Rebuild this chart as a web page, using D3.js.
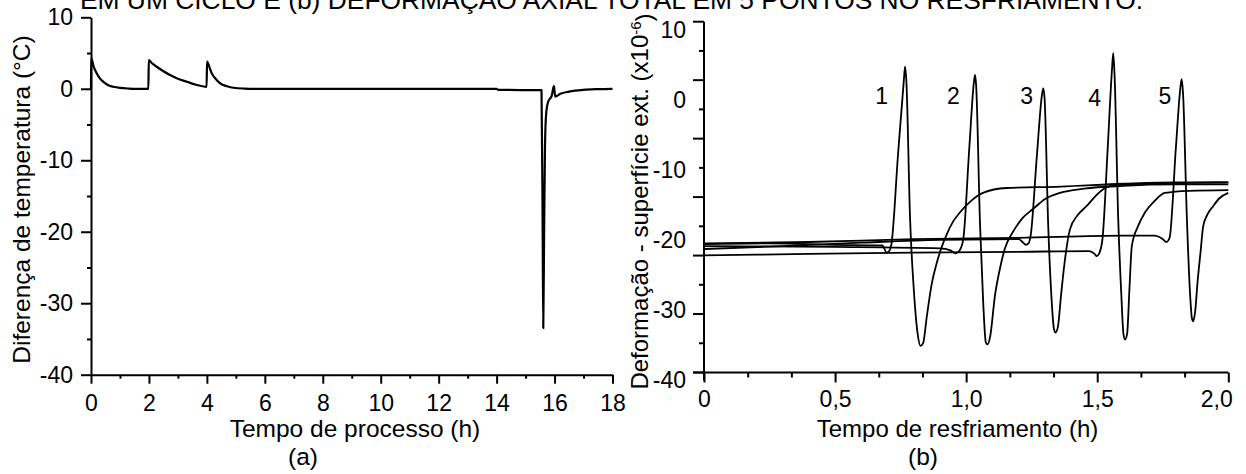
<!DOCTYPE html>
<html>
<head>
<meta charset="utf-8">
<script src="https://cdn.jsdelivr.net/npm/d3@7"></script>
<style>
  body { margin: 0; background: #fff; }
  svg text { font-family: "Liberation Sans", Arial, sans-serif; fill: #000; }
  .axis path, .axis line { stroke: #000; stroke-width: 2; }
</style>
</head>
<body>
<svg id="chart" width="1246" height="474"></svg>
<script>
// ---- Panel (a): temperature difference during the process ----
const processHours = [0, 0.005, 0.1, 0.2, 0.3, 0.42, 0.6, 0.77, 1.0, 1.3, 1.5, 1.98, 1.995, 2.1, 2.27, 2.5, 2.73, 3.0, 3.31, 3.6, 3.99, 4.005, 4.1, 4.17, 4.3, 4.46, 4.7, 4.92, 5.3, 5.6, 14.0, 14.05, 15.55, 15.59, 15.61, 15.64, 15.67, 15.71, 15.78, 15.9, 15.98, 16.02, 16.2, 16.5, 17.0, 17.5, 18.0];
const tempDiff     = [0, 4.3, 3.0, 2.15, 1.5, 1.0, 0.5, 0.28, 0.12, 0.03, 0, 0, 4.0, 3.6, 3.08, 2.45, 1.92, 1.4, 0.98, 0.6, 0.28, 3.8, 2.9, 2.15, 1.4, 0.75, 0.35, 0.14, 0.03, 0, 0, -0.15, -0.2, -20, -33.5, -20, -8, -3.5, -1.8, -1.0, 0.4, -1.1, -0.7, -0.4, -0.15, -0.05, 0];
const hourTicks  = [0, 2, 4, 6, 8, 10, 12, 14, 16, 18];
const hourMinor  = [1, 3, 5, 7, 9, 11, 13, 15, 17];
const tempTicks  = [-40, -30, -20, -10, 0, 10];
const tempMinor  = [-35, -25, -15, -5, 5];

// ---- Panel (b): total axial strain at five points during cooling ----
const curve1 = [[0,-21.7],[0.25,-21.6],[0.5,-21.8],[0.68,-21.9],[0.697,-22.9],[0.708,-22.6],[0.715,-21.7],[0.74,-9],[0.762,1.5],[0.767,3.6],[0.772,1.5],[0.786,-18],[0.8,-28],[0.815,-34.5],[0.826,-36.2],[0.836,-35.8],[0.85,-32],[0.868,-27.5],[0.887,-24.5],[0.905,-22.3],[0.926,-20.3],[0.95,-18.5],[0.976,-17.2],[1.02,-15.5],[1.064,-14.4],[1.154,-13.7],[1.36,-13.5],[1.6,-13.1],[1.8,-12.9],[2.0,-12.9]];
const curve2 = [[0,-22.0],[0.5,-22.1],[0.9,-22.3],[0.94,-22.6],[0.96,-23.0],[0.975,-22.6],[0.989,-21],[1.012,-8],[1.03,1.5],[1.034,2.4],[1.038,1],[1.053,-19],[1.065,-30],[1.075,-35.7],[1.082,-36],[1.091,-35],[1.11,-29],[1.13,-25],[1.148,-22.3],[1.178,-20],[1.215,-18],[1.255,-16.7],[1.3,-15.3],[1.358,-14.4],[1.45,-13.8],[1.6,-13.4],[1.8,-13.2],[2.0,-13.2]];
const curve3 = [[0,-22.4],[0.3,-22.0],[0.6,-21.5],[0.9,-21.1],[1.2,-21.0],[1.215,-21.4],[1.228,-21.8],[1.238,-21.6],[1.246,-20.5],[1.27,-9],[1.289,-0.5],[1.294,0.5],[1.299,-0.8],[1.313,-19],[1.325,-29],[1.335,-33.8],[1.341,-34.3],[1.35,-33.5],[1.362,-29],[1.375,-24.5],[1.396,-19.6],[1.425,-17.6],[1.459,-16.3],[1.5,-14.6],[1.535,-13.6],[1.6,-13.2],[1.8,-13.0],[2.0,-12.9]];
const curve4 = [[0,-23.3],[0.4,-23.1],[0.8,-22.9],[1.2,-22.8],[1.47,-22.7],[1.49,-23.1],[1.498,-23.4],[1.51,-22.8],[1.52,-21],[1.54,-8],[1.556,3],[1.561,5.5],[1.566,2.5],[1.58,-18],[1.592,-29],[1.6,-34.5],[1.606,-35.3],[1.614,-34.5],[1.623,-28],[1.632,-22.0],[1.655,-19.2],[1.682,-17.2],[1.72,-15.5],[1.758,-14.4],[1.85,-14.1],[2.0,-14.0]];
const curve5 = [[0,-21.6],[0.4,-21.4],[0.8,-21.0],[1.2,-20.8],[1.6,-20.5],[1.72,-20.5],[1.75,-21.0],[1.764,-21.4],[1.776,-20.8],[1.8,-8],[1.817,0.5],[1.822,1.8],[1.827,0],[1.842,-18],[1.853,-28],[1.861,-32.2],[1.866,-32.7],[1.873,-31.5],[1.883,-27],[1.895,-22.5],[1.904,-19.2],[1.92,-17.5],[1.942,-16.3],[1.965,-15.2],[2.0,-14.4]];
const strainCurves = [curve1, curve2, curve3, curve4, curve5];
const curveNames   = ["1", "2", "3", "4", "5"];
const nameAnchors  = [[0.678, -1.8], [0.951, -1.8], [1.231, -1.8], [1.49, -2.0], [1.758, -1.8]];
const coolTicks      = [0, 0.5, 1.0, 1.5, 2.0];
const coolTickLabels = ["0", "0,5", "1,0", "1,5", "2,0"];
const coolMinor      = [1/6, 2/6, 4/6, 5/6, 7/6, 8/6, 10/6, 11/6];
const strainTicks    = [-40, -30, -20, -10, 0, 10];

const svg = d3.select("#chart");

// Caption line running above both panels
svg.append("text")
  .attr("x", 611.5).attr("y", 8.5)
  .attr("text-anchor", "middle")
  .style("font-size", "26.4px")
  .text("EM UM CICLO E (b) DEFORMAÇÃO AXIAL TOTAL EM 5 PONTOS NO RESFRIAMENTO.");

// ================= Panel (a) =================
const xA = d3.scaleLinear().domain([0, 18]).range([91, 612.5]);
const yA = d3.scaleLinear().domain([-40, 10]).range([374.7, 17.3]);

const gA = svg.append("g");

gA.append("g").attr("class", "axis")
  .attr("transform", `translate(0,${yA(-40)})`)
  .call(d3.axisBottom(xA).tickValues(hourMinor).tickSize(4).tickFormat("").tickSizeOuter(0))
  .call(g => g.select(".domain").remove());
gA.append("g").attr("class", "axis")
  .attr("transform", `translate(0,${yA(-40)})`)
  .call(d3.axisBottom(xA).tickValues(hourTicks).tickSize(9).tickPadding(11).tickSizeOuter(0).tickFormat(d => String(d)))
  .call(g => g.selectAll("text").style("font-size", "23px"));

gA.append("g").attr("class", "axis")
  .attr("transform", `translate(${xA(0)},0)`)
  .call(d3.axisLeft(yA).tickValues(tempMinor).tickSize(4).tickFormat("").tickSizeOuter(0))
  .call(g => g.select(".domain").remove());
gA.append("g").attr("class", "axis")
  .attr("transform", `translate(${xA(0)},0)`)
  .call(d3.axisLeft(yA).tickValues(tempTicks).tickSize(10).tickPadding(8).tickSizeOuter(0).tickFormat(d => String(d)))
  .call(g => g.selectAll("text").style("font-size", "23px"));

const lineA = d3.line()
  .x((d, i) => xA(processHours[i]))
  .y(d => yA(d))
  .curve(d3.curveMonotoneX);
gA.append("path")
  .datum(tempDiff)
  .attr("d", lineA)
  .attr("fill", "none")
  .attr("stroke", "#000")
  .attr("stroke-width", 2.2)
  .attr("stroke-linejoin", "round");

gA.append("text")
  .attr("transform", "rotate(-90)")
  .attr("x", -199.5).attr("y", 30)
  .attr("text-anchor", "middle")
  .style("font-size", "24.5px")
  .text("Diferença de temperatura (°C)");
gA.append("text")
  .attr("x", 355).attr("y", 437)
  .attr("text-anchor", "middle")
  .style("font-size", "24.5px")
  .text("Tempo de processo (h)");
gA.append("text")
  .attr("x", 303).attr("y", 465)
  .attr("text-anchor", "middle")
  .style("font-size", "24.5px")
  .text("(a)");

// ================= Panel (b) =================
const xB = d3.scaleLinear().domain([0, 2]).range([704, 1228.3]);
const yB = d3.scaleLinear().domain([-40, 10]).range([372.5, 21.7]);

const gB = svg.append("g");

// horizontal axis: line reaches a little to the left of the origin
gB.append("line")
  .attr("x1", xB(0) - 11).attr("x2", xB(2))
  .attr("y1", yB(-40)).attr("y2", yB(-40))
  .attr("stroke", "#000").attr("stroke-width", 2);
gB.append("g").attr("class", "axis")
  .attr("transform", `translate(0,${yB(-40)})`)
  .call(d3.axisBottom(xB).tickValues(coolMinor).tickSize(5).tickFormat("").tickSizeOuter(0))
  .call(g => g.select(".domain").remove());
gB.append("g").attr("class", "axis")
  .attr("transform", `translate(0,${yB(-40)})`)
  .call(d3.axisBottom(xB).tickValues(coolTicks).tickSize(10).tickPadding(8).tickSizeOuter(0)
        .tickFormat((d, i) => coolTickLabels[i]))
  .call(g => g.select(".domain").remove())
  .call(g => g.selectAll("text").style("font-size", "23px"))
  .call(g => g.selectAll(".tick").filter(d => d === 2).select("text").attr("text-anchor", "end").attr("x", 4));

// vertical axis: twelve equal divisions with alternating long and short marks
const strainMarks = d3.range(13).map(i => -40 + i * 50 / 12);
gB.append("line")
  .attr("x1", xB(0)).attr("x2", xB(0))
  .attr("y1", yB(10)).attr("y2", yB(-40) + 8)
  .attr("stroke", "#000").attr("stroke-width", 2);
gB.append("g").selectAll("line")
  .data(strainMarks)
  .join("line")
  .attr("x1", (d, i) => xB(0) - (i % 2 === 0 ? 11 : 5))
  .attr("x2", xB(0))
  .attr("y1", d => yB(d)).attr("y2", d => yB(d))
  .attr("stroke", "#000").attr("stroke-width", 2);
gB.append("g").attr("class", "axis")
  .attr("transform", `translate(${xB(0)},8)`)
  .call(d3.axisLeft(yB).tickValues(strainTicks).tickSize(0).tickPadding(18).tickFormat(d => String(d)))
  .call(g => g.select(".domain").remove())
  .call(g => g.selectAll("text").style("font-size", "23px"));

const lineB = d3.line()
  .x(d => xB(d[0]))
  .y(d => yB(d[1]))
  .curve(d3.curveMonotoneX);
gB.append("g").selectAll("path")
  .data(strainCurves)
  .join("path")
  .attr("d", lineB)
  .attr("fill", "none")
  .attr("stroke", "#000")
  .attr("stroke-width", 1.8)
  .attr("stroke-linejoin", "round");

gB.append("g").selectAll("text")
  .data(nameAnchors)
  .join("text")
  .attr("x", d => xB(d[0])).attr("y", d => yB(d[1]))
  .attr("text-anchor", "middle")
  .style("font-size", "23px")
  .text((d, i) => curveNames[i]);

const yTitle = gB.append("text")
  .attr("transform", "rotate(-90)")
  .attr("x", -201.5).attr("y", 647.5)
  .attr("text-anchor", "middle")
  .style("font-size", "24px");
yTitle.append("tspan").text("Deformação - superfície ext. (x10");
yTitle.append("tspan").attr("dy", "-0.45em").style("font-size", "15px").text("-6");
yTitle.append("tspan").attr("dy", "0.45em").text(")");

gB.append("text")
  .attr("x", 957.5).attr("y", 436.7)
  .attr("text-anchor", "middle")
  .style("font-size", "24px")
  .text("Tempo de resfriamento (h)");
gB.append("text")
  .attr("x", 923).attr("y", 465)
  .attr("text-anchor", "middle")
  .style("font-size", "24.5px")
  .text("(b)");
</script>
</body>
</html>
